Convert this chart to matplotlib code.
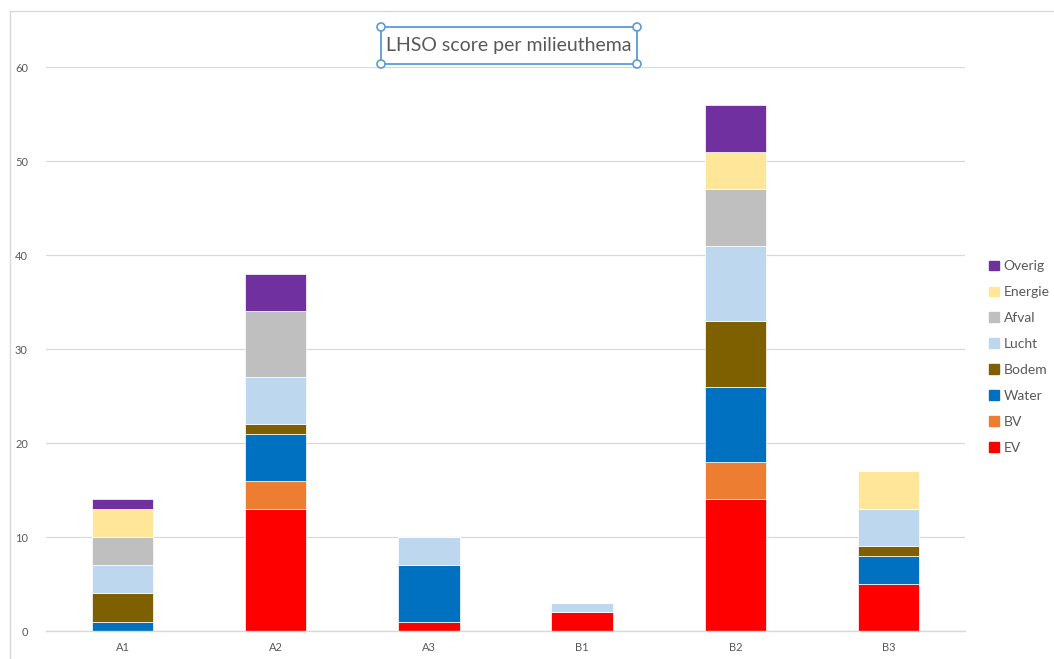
import matplotlib
matplotlib.use("Agg")
import matplotlib.pyplot as plt
import matplotlib.patches as mpatches
from matplotlib.lines import Line2D
import numpy as np

plt.rcParams['font.family'] = ['Lato', 'DejaVu Sans']

# Data
categories = ["A1", "A2", "A3", "B1", "B2", "B3"]
themes = ["EV", "BV", "Water", "Bodem", "Lucht", "Afval", "Energie", "Overig"]
colors = ["#FF0000", "#ED7D31", "#0070C0", "#7F6000", "#BDD7EE", "#BFBFBF", "#FFE699", "#7030A0"]
EV      = [0, 13, 1, 2, 14, 5]
BV      = [0, 3, 0, 0, 4, 0]
Water   = [1, 5, 6, 0, 8, 3]
Bodem   = [3, 1, 0, 0, 7, 1]
Lucht   = [3, 5, 3, 1, 8, 4]
Afval   = [3, 7, 0, 0, 6, 0]
Energie = [3, 0, 0, 0, 4, 4]
Overig  = [1, 4, 0, 0, 5, 0]
series = [EV, BV, Water, Bodem, Lucht, Afval, Energie, Overig]

W, H = 1054, 659
fig = plt.figure(figsize=(W / 100, H / 100), dpi=100)
ax = fig.add_axes([46 / W, 1 - 631 / H, (965 - 46) / W, (631 - 67) / H])

x = np.arange(len(categories))
bottom = np.zeros(len(categories))
handles = []
for name, vals, col in zip(themes, series, colors):
    vals = np.array(vals, dtype=float)
    ax.bar(x, vals, width=0.4, bottom=bottom, color=col, edgecolor="white",
           linewidth=0.5, label=name)
    bottom += vals
    handles.append(mpatches.Patch(color=col, label=name))

ax.set_xlim(-0.5, len(categories) - 0.5)
ax.set_ylim(0, 60)
ax.set_yticks(range(0, 61, 10))
ax.set_xticks(x)
ax.set_xticklabels(categories)
ax.yaxis.grid(True, color="#D9D9D9", linewidth=0.9)
ax.set_axisbelow(True)
for s in ["top", "right", "left"]:
    ax.spines[s].set_visible(False)
ax.spines["bottom"].set_color("#D9D9D9")
ax.spines["bottom"].set_linewidth(1.0)
ax.tick_params(axis="both", length=0, colors="#595959", labelsize=8)
ax.tick_params(axis="y", pad=13)
ax.tick_params(axis="x", pad=8)

leg = fig.legend(handles=handles[::-1], loc="center left",
                 bbox_to_anchor=(982 / W, 1 - 357 / H), frameon=False,
                 fontsize=10, handlelength=0.7, handleheight=0.7,
                 handletextpad=0.35, labelspacing=1.0, borderpad=0)
for t in leg.get_texts():
    t.set_color("#595959")

# chart border (left and top visible)
fig.add_artist(Line2D([10 / W, 10 / W], [1 - 11 / H, 0], color="#D9D9D9", lw=1))
fig.add_artist(Line2D([10 / W, 1], [1 - 11 / H, 1 - 11 / H], color="#D9D9D9", lw=1))

# title in a selected text box
x0, x1, y0, y1 = 381 / W, 637 / W, 1 - 64 / H, 1 - 27 / H
fig.add_artist(mpatches.Rectangle((x0, y0), x1 - x0, y1 - y0, fill=False,
                                  edgecolor="#5B9BD5", lw=1.3,
                                  transform=fig.transFigure))
for cx, cy in [(x0, y0), (x0, y1), (x1, y0), (x1, y1)]:
    fig.add_artist(mpatches.Ellipse((cx, cy), 8 / W, 8 / H, facecolor="white",
                                    edgecolor="#5B9BD5", lw=1.2,
                                    transform=fig.transFigure))
fig.text((x0 + x1) / 2, (y0 + y1) / 2, "LHSO score per milieuthema",
         ha="center", va="center", fontsize=14, color="#595959")

fig.savefig("out.png", dpi=100)
